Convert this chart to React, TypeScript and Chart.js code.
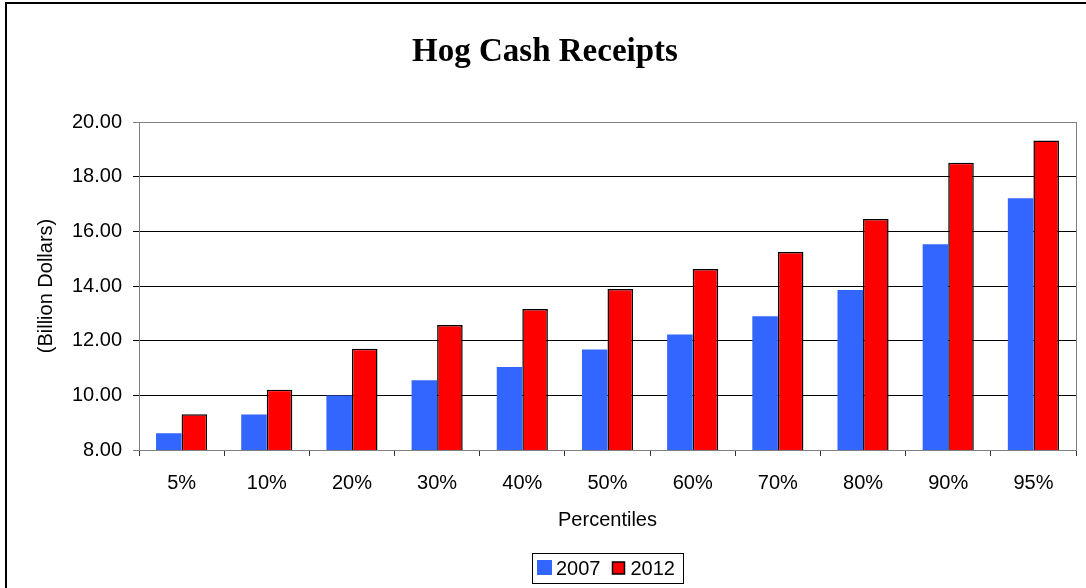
import React, { useEffect, useRef } from "react";
import { Chart, registerables } from "chart.js";

Chart.register(...registerables);

const chartTitle = "Hog Cash Receipts";
const yAxisTitle = "(Billion Dollars)";
const xAxisTitle = "Percentiles";
const categories = ["5%", "10%", "20%", "30%", "40%", "50%", "60%", "70%", "80%", "90%", "95%"];
const seriesLabels = ["2007", "2012"];
const values2007 = [8.61, 9.3, 9.99, 10.55, 11.04, 11.68, 12.23, 12.89, 13.85, 15.53, 17.21];
const values2012 = [9.31, 10.2, 11.7, 12.57, 13.16, 13.89, 14.62, 15.24, 16.45, 18.51, 19.32];
const yMin = 8;
const yMax = 20;
const yStep = 2;

const SANS = '"Liberation Sans", Arial, sans-serif';
const SERIF = '"Liberation Serif", "Times New Roman", serif';

const decorPlugin = {
  id: "decor",
  beforeDatasetsDraw(chart: any) {
    const { ctx, chartArea } = chart;
    ctx.save();
    ctx.strokeStyle = "#808080";
    ctx.lineWidth = 1;
    const x = Math.round(chartArea.right) + 0.5;
    ctx.beginPath();
    ctx.moveTo(x, chartArea.top);
    ctx.lineTo(x, chartArea.bottom);
    ctx.stroke();
    ctx.restore();
  },
  afterDraw(chart: any) {
    const { ctx, chartArea, width, height } = chart;
    ctx.save();
    // outer frame (left and top edges)
    ctx.fillStyle = "#000";
    ctx.fillRect(5, 2, width - 5, 2);
    ctx.fillRect(5, 2, 2, height - 2);

    // legend
    ctx.font = `20px ${SANS}`;
    const ds = chart.data.datasets;
    const items = ds.map((d: any) => ({
      label: d.label,
      color: d.backgroundColor,
      border: d.borderWidth > 0 ? d.borderColor : null,
      w: ctx.measureText(d.label).width,
    }));
    const padL = 5;
    const sw = 15;
    const gapText = 4;
    const gapItem = 11;
    const padR = 8;
    let total = padL + padR;
    items.forEach((it: any, i: number) => {
      total += sw + gapText + it.w + (i < items.length - 1 ? gapItem : 0);
    });
    const cx = (chartArea.left + chartArea.right) / 2;
    const L = Math.round(cx - total / 2);
    const top = 553;
    const h = 30;
    ctx.fillStyle = "#fff";
    ctx.fillRect(L, top, total, h);
    ctx.strokeStyle = "#000";
    ctx.lineWidth = 1;
    ctx.strokeRect(L + 0.5, top + 0.5, total, h);
    let x = L + padL;
    items.forEach((it: any) => {
      if (it.border) {
        ctx.fillStyle = it.color;
        ctx.fillRect(x + 1, top + 9, 12, 12);
        ctx.strokeStyle = it.border;
        ctx.lineWidth = 1.5;
        ctx.strokeRect(x + 1, top + 9, 12, 12);
      } else {
        ctx.fillStyle = it.color;
        ctx.fillRect(x, top + 7, sw, sw);
      }
      x += sw + gapText;
      ctx.fillStyle = "#000";
      ctx.textBaseline = "alphabetic";
      ctx.textAlign = "left";
      ctx.fillText(it.label, x, top + 22);
      x += it.w + gapItem;
    });
    ctx.restore();
  },
};

export default function App() {
  const ref = useRef<HTMLCanvasElement | null>(null);
  useEffect(() => {
    if (!ref.current) return;
    const chart = new Chart(ref.current, {
      type: "bar",
      data: {
        labels: categories,
        datasets: [
          {
            label: seriesLabels[0],
            data: values2007,
            backgroundColor: "#3366FF",
            borderWidth: 0,
            categoryPercentage: 0.6,
            barPercentage: 1.0,
          },
          {
            label: seriesLabels[1],
            data: values2012,
            backgroundColor: "#FF0000",
            borderColor: "#000000",
            borderWidth: 1.5,
            borderSkipped: false,
            categoryPercentage: 0.6,
            barPercentage: 1.0,
          },
        ],
      },
      options: {
        responsive: false,
        animation: false,
        events: [],
        layout: { padding: { left: 14, right: 10, top: 0, bottom: 38 } },
        plugins: {
          legend: { display: false },
          tooltip: { enabled: false },
          title: {
            display: true,
            text: chartTitle,
            color: "#000",
            font: { family: SERIF, size: 33, weight: "bold" },
            padding: { top: 33, bottom: 49.4 },
          },
        },
        scales: {
          x: {
            afterFit: (s: any) => {
              s.height = 100;
            },
            grid: {
              offset: true,
              drawOnChartArea: false,
              drawTicks: true,
              tickLength: 6,
              color: "#333",
            },
            border: { display: true, color: "#808080", width: 1 },
            ticks: {
              color: "#000",
              font: { family: SANS, size: 20 },
              padding: 15,
              maxRotation: 0,
            },
            title: {
              display: true,
              text: xAxisTitle,
              color: "#000",
              font: { family: SANS, size: 20 },
              padding: { top: 0, bottom: 18 },
            },
          },
          y: {
            min: yMin,
            max: yMax,
            afterFit: (s: any) => {
              s.width = 125;
            },
            grid: {
              drawTicks: true,
              tickLength: 6,
              color: (c: any) => (c.tick && (c.tick.value === yMax || c.tick.value === yMin) ? "#808080" : "#000"),
            },
            border: { display: true, color: "#808080", width: 1 },
            ticks: {
              stepSize: yStep,
              color: "#000",
              font: { family: SANS, size: 20 },
              padding: 11,
              callback: (v: any) => Number(v).toFixed(2),
            },
            title: {
              display: true,
              text: yAxisTitle,
              color: "#000",
              font: { family: SANS, size: 20 },
              padding: { top: 20, bottom: 0 },
            },
          },
        },
      },
      plugins: [decorPlugin],
    });
    return () => chart.destroy();
  }, []);
  return (
    <div style={{ position: "fixed", left: 0, top: 0, width: 1086, height: 588, background: "#fff" }}>
      <canvas ref={ref} width={1086} height={588} style={{ display: "block", width: 1086, height: 588 }} />
    </div>
  );
}
